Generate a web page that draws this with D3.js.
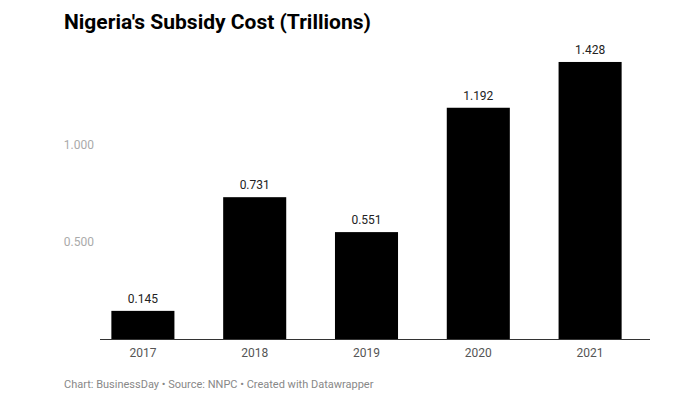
<!DOCTYPE html><html><head><meta charset="utf-8">
<script src="https://cdn.jsdelivr.net/npm/d3@7"></script>
<style>body{margin:0;background:#fff;font-family:Roboto,sans-serif}</style></head><body>
<svg id="c" width="700" height="400"></svg>
<script>
const years=["2017","2018","2019","2020","2021"];
const values=[0.145,0.731,0.551,1.192,1.428];
const yTicks=[0.5,1.0];
const svg=d3.select("#c");
svg.append("text").attr("x",64).attr("y",29).attr("font-size",21).attr("font-weight",700).attr("fill","#000").text("Nigeria's Subsidy Cost (Trillions)");
const x=d3.scaleBand().domain(years).range([87,646]).paddingInner(0.436).paddingOuter(0.218);
const y=d3.scaleLinear().domain([0,1]).range([339,145]);
svg.selectAll(".yt").data(yTicks).join("text").attr("x",94).attr("y",d=>y(d)+4).attr("text-anchor","end").attr("font-size",12).attr("fill","#aaa").text(d=>d3.format(".3f")(d));
svg.selectAll("rect").data(values).join("rect").attr("x",(d,i)=>x(years[i])).attr("width",x.bandwidth()).attr("y",d=>y(d)).attr("height",d=>y(0)-y(d)).attr("fill","#000");
svg.selectAll(".vl").data(values).join("text").attr("x",(d,i)=>x(years[i])+x.bandwidth()/2).attr("y",d=>y(d)-8).attr("text-anchor","middle").attr("font-size",12).attr("fill","#222").text(d=>d3.format(".3f")(d));
svg.append("line").attr("x1",100).attr("x2",650).attr("y1",339.5).attr("y2",339.5).attr("stroke","#333");
svg.selectAll(".xl").data(years).join("text").attr("x",d=>x(d)+x.bandwidth()/2).attr("y",357).attr("text-anchor","middle").attr("font-size",12).attr("fill","#555").text(d=>d);
svg.append("text").attr("x",64).attr("y",388).attr("font-size",11).attr("fill","#888").text("Chart: BusinessDay • Source: NNPC • Created with Datawrapper");
</script></body></html>
